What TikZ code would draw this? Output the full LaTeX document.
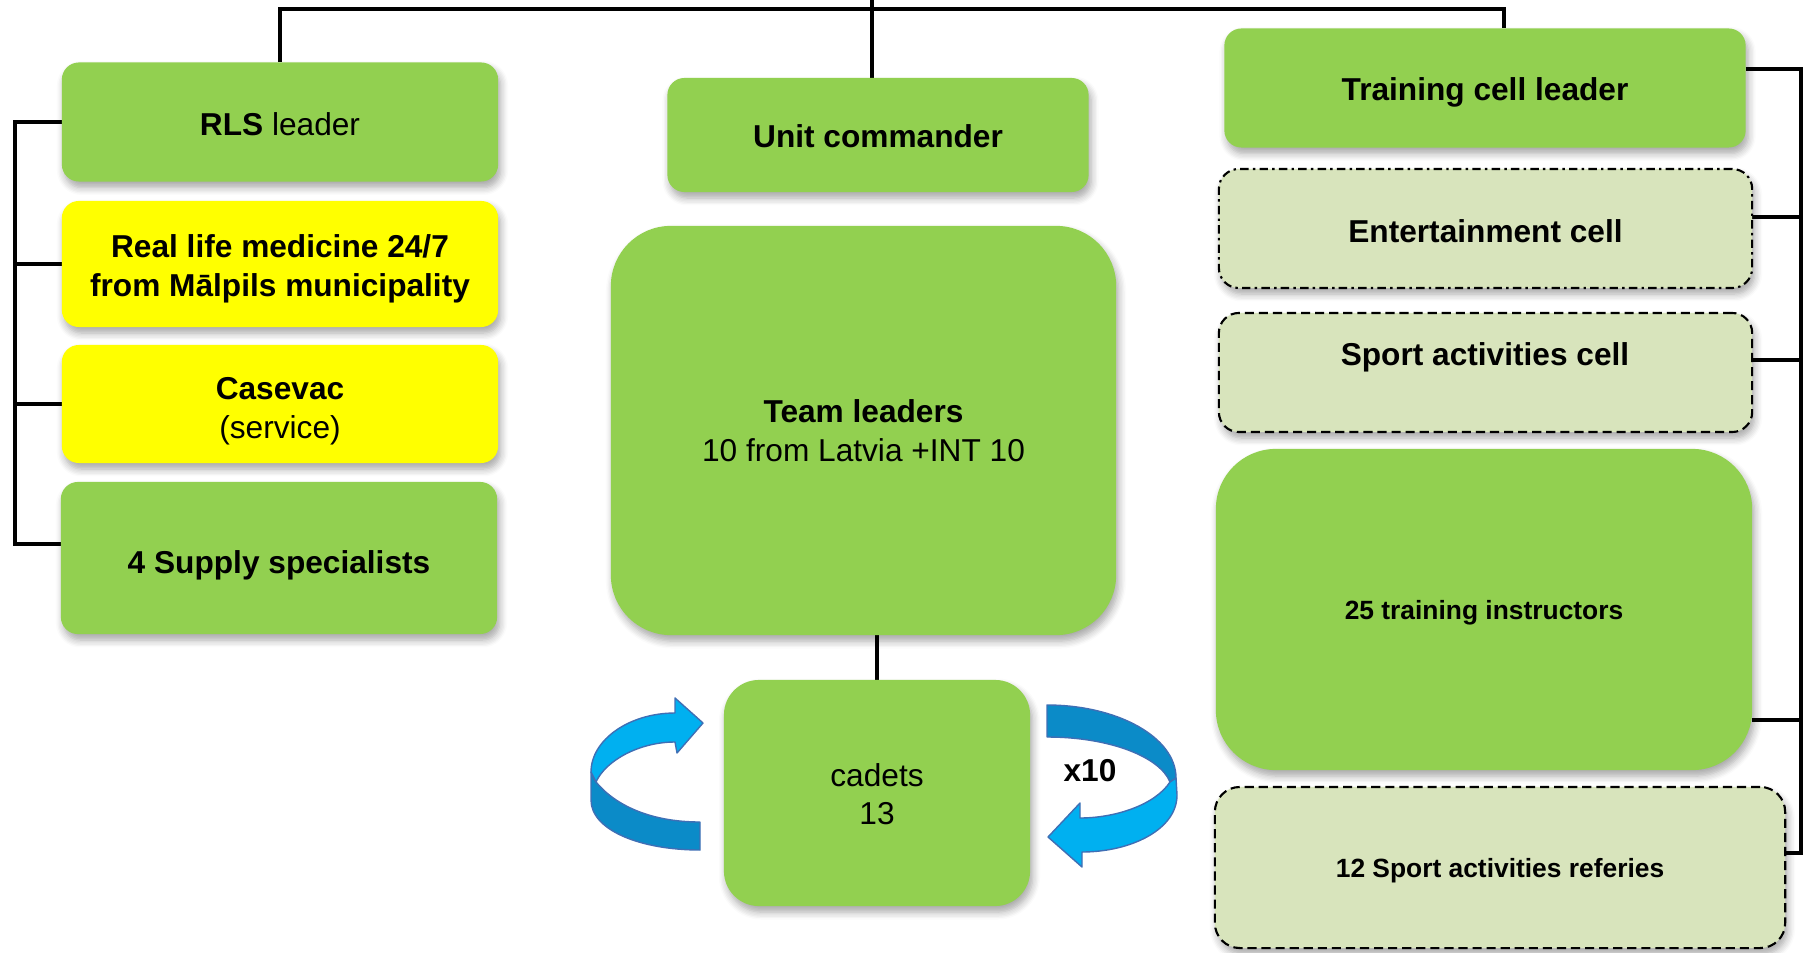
\documentclass[tikz,border=0pt]{standalone}
\usepackage{fontspec}
\setmainfont{Liberation Sans}
\usetikzlibrary{backgrounds,shadows.blur}
\definecolor{grn}{HTML}{92D050}
\definecolor{ylw}{HTML}{FFFF00}
\definecolor{lgrn}{HTML}{D8E4BC}
\definecolor{blt}{HTML}{00B0F0}
\definecolor{bdk}{HTML}{0B8BC8}
\definecolor{bol}{HTML}{3F6FB5}
\newcommand\dn[2]{\raisebox{-#1}[\height][\depth]{#2}}
\begin{document}
\begin{tikzpicture}[x=0.01cm,y=-0.01cm,
  base/.style={rectangle, rounded corners=0.17cm, inner sep=2pt, outer sep=0pt, align=center,
    font=\fontsize{9}{11}\selectfont,
    blur shadow={shadow xshift=0.25mm, shadow yshift=-0.6mm, shadow blur steps=6, shadow opacity=35}},
  gbox/.style={base, fill=grn},
  ybox/.style={base, fill=ylw},
  dbox/.style={base, fill=lgrn, draw=black, line width=0.6pt},
  dashbox/.style={dbox, dash pattern=on 2.6pt off 1.4pt},
  dotbox/.style={dbox, dash pattern=on 2.4pt off 1.2pt on 0.7pt off 1.2pt},
  conn/.style={line width=1.2pt, black},
  ribbon/.style={draw=bol, line width=0.4pt, line join=round},
  smallfont/.style={font=\fontsize{7.5}{9}\selectfont\bfseries}
]
\useasboundingbox (0,0) rectangle (1807,952);

% left column
\node[gbox, minimum width=4.36cm, minimum height=1.19cm] (rls) at (280,122) {\dn{0.65pt}{\textbf{RLS} leader}};
\node[ybox, minimum width=4.36cm, minimum height=1.26cm] (rlm) at (280,264) {\dn{1.3pt}{\textbf{Real life medicine 24/7}}\\\dn{1.3pt}{\textbf{from Mālpils municipality}}};
\node[ybox, minimum width=4.36cm, minimum height=1.18cm] (cas) at (280,404) {\dn{2.1pt}{\textbf{Casevac}}\\\dn{2.1pt}{(service)}};
\node[gbox, minimum width=4.36cm, minimum height=1.52cm] (sup) at (279,558) {\dn{2pt}{\textbf{4 Supply specialists}}};

% middle column
\node[gbox, minimum width=4.21cm, minimum height=1.14cm] (uc) at (878,135) {\dn{0.3pt}{\textbf{Unit commander}}};
\node[gbox, rounded corners=0.6cm, minimum width=5.05cm, minimum height=4.09cm] (tl) at (863.5,430.5) {\textbf{Team leaders}\\10 from Latvia +INT 10};
\node[gbox, rounded corners=0.35cm, minimum width=3.06cm, minimum height=2.26cm] (cad) at (877,793) {\dn{0.3pt}{cadets}\\\dn{0.3pt}{13}};

% right column
\node[gbox, minimum width=5.21cm, minimum height=1.19cm] (tcl) at (1485,88) {\dn{1.3pt}{\textbf{Training cell leader}}};
\node[dotbox, rounded corners=0.2cm, minimum width=5.33cm, minimum height=1.19cm] (ent) at (1485.5,228.5) {\dn{0.65pt}{\textbf{Entertainment cell}}};
\node[dashbox, rounded corners=0.2cm, minimum width=5.33cm, minimum height=1.19cm] (spc) at (1485.5,372.5) {};
\node[font=\fontsize{9}{11}\selectfont\bfseries, inner sep=0pt] (spct) at (1485,357) {Sport activities cell};
\node[gbox, rounded corners=0.6cm, minimum width=5.36cm, minimum height=3.21cm, smallfont] (ins) at (1484,609.5) {\dn{1pt}{25 training instructors}};
\node[dashbox, rounded corners=0.25cm, minimum width=5.70cm, minimum height=1.61cm, smallfont] (ref) at (1500,867.5) {\dn{1pt}{12 Sport activities referies}};

% connectors
\coordinate (topin) at (872,0);
\coordinate (tleft) at (280,9);
\coordinate (tright) at (1504,9);
\coordinate (lbt) at (15,122);
\coordinate (lbb) at (15,544);
\coordinate (rb1) at (1801,69);
\coordinate (rb2) at (1801,217);
\coordinate (rb3) at (1801,360);
\coordinate (rb4) at (1801,720);
\coordinate (rb5) at (1801,853);
\begin{scope}[on background layer]
  \draw[conn] (rls.north) -- (tleft) -- (tright) -- (tright |- tcl.north);
  \draw[conn] (topin) -- (topin |- uc.north);
  \draw[conn] (tl.south -| cad.north) -- (cad.north);
  \draw[conn] (rls.west) -- (lbt) -- (lbb) -- (lbb -| sup.west);
  \draw[conn] (rlm.west) -- (rlm.west -| lbb);
  \draw[conn] (cas.west) -- (cas.west -| lbb);
  \draw[conn] (rb1 -| tcl.east) -- (rb1) -- (rb5) -- (rb5 -| ref.east);
  \draw[conn] (rb2 -| ent.east) -- (rb2);
  \draw[conn] (rb3 -| spc.east) -- (rb3);
  \draw[conn] (rb4 -| ins.east) -- (rb4);
\end{scope}

% left circular arrow
\filldraw[ribbon, fill=bdk] (591,772) -- (596,782) .. controls (615,805) and (650,822) .. (700,822)
  -- (700,850) .. controls (640,850) and (591,830) .. (591,800) -- cycle;
\filldraw[ribbon, fill=blt] (675,713) .. controls (629,713) and (591,740) .. (591,772)
  -- (596,782) .. controls (606,760) and (640,742) .. (675,742)
  -- (677,753) -- (703,723) -- (675,698) -- cycle;

% right circular arrow
\filldraw[ribbon, fill=bdk] (1047,705) .. controls (1117,705) and (1176,737) .. (1176,778)
  -- (1170,782) .. controls (1160,757) and (1110,737) .. (1047,737) -- cycle;
\filldraw[ribbon, fill=blt] (1176,778) -- (1170,782) .. controls (1155,805) and (1115,818) .. (1080,818)
  -- (1080,803) -- (1048,837) -- (1082,867) -- (1082,852)
  .. controls (1130,852) and (1177,830) .. (1177,795) -- cycle;
\node[font=\fontsize{9}{11}\selectfont\bfseries, inner sep=0pt] (xten) at (1090,771) {x10};
\end{tikzpicture}
\end{document}
